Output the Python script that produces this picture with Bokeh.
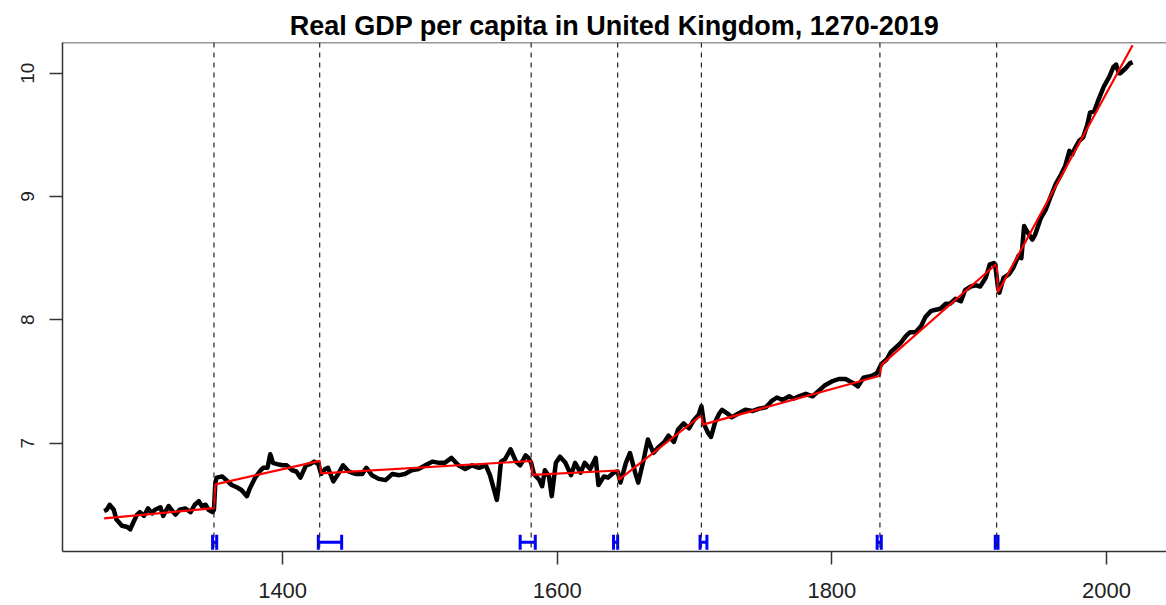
from bokeh.plotting import figure
from bokeh.models import Range1d, Span, Whisker, TeeHead, ColumnDataSource
from bokeh.embed import file_html
from bokeh.resources import INLINE

# ---- data (log real GDP per capita, UK) ----
years = [1270, 1272, 1274, 1277, 1279, 1283, 1287, 1289, 1291, 1294, 1296, 1299,
         1302, 1305, 1307, 1311, 1313, 1317, 1319, 1322, 1325, 1329, 1333, 1336,
         1339, 1341, 1344, 1346, 1349, 1350, 1351, 1352, 1356, 1359, 1363, 1367,
         1370, 1374, 1376, 1380, 1384, 1386, 1389, 1391, 1393, 1396, 1400, 1403,
         1407, 1410, 1413, 1417, 1420, 1423, 1426, 1428, 1431, 1433, 1437, 1441,
         1444, 1448, 1453, 1458, 1461, 1465, 1470, 1475, 1480, 1485, 1489, 1494,
         1499, 1504, 1509, 1514, 1518, 1523, 1528, 1533, 1538, 1543, 1548, 1551,
         1554, 1556, 1557, 1559, 1562, 1566, 1570, 1573, 1577, 1579, 1581, 1583,
         1587, 1589, 1591, 1594, 1596, 1599, 1602, 1606, 1610, 1613, 1617, 1620,
         1624, 1628, 1630, 1634, 1637, 1641, 1644, 1646, 1650, 1653, 1657, 1659,
         1663, 1666, 1670, 1674, 1678, 1681, 1685, 1688, 1692, 1696, 1699, 1703,
         1705, 1707, 1710, 1712, 1715, 1718, 1720, 1724, 1727, 1732, 1737, 1742,
         1747, 1752, 1756, 1760, 1764, 1769, 1772, 1776, 1781, 1786, 1790, 1795,
         1800, 1805, 1810, 1815, 1819, 1823, 1827, 1830, 1833, 1836, 1840, 1843,
         1846, 1850, 1854, 1857, 1861, 1865, 1868, 1872, 1875, 1879, 1883, 1886,
         1890, 1894, 1897, 1901, 1905, 1908, 1912, 1915, 1918, 1919, 1921, 1922,
         1925, 1929, 1932, 1936, 1938, 1940, 1942, 1946, 1948, 1952, 1956, 1959,
         1963, 1967, 1970, 1973, 1975, 1977, 1980, 1983, 1986, 1988, 1991, 1994,
         1998, 2002, 2005, 2007, 2009, 2010, 2014, 2017, 2019]
log_gdp = [6.45, 6.46, 6.50, 6.46, 6.38, 6.33, 6.32, 6.30, 6.35, 6.42, 6.44, 6.41,
           6.47, 6.43, 6.46, 6.48, 6.41, 6.49, 6.46, 6.42, 6.46, 6.47, 6.44, 6.50,
           6.53, 6.49, 6.50, 6.46, 6.44, 6.46, 6.68, 6.72, 6.73, 6.70, 6.66, 6.64,
           6.62, 6.57, 6.63, 6.72, 6.78, 6.80, 6.80, 6.91, 6.84, 6.83, 6.82, 6.82,
           6.78, 6.77, 6.72, 6.82, 6.83, 6.85, 6.83, 6.75, 6.79, 6.80, 6.69, 6.76,
           6.82, 6.77, 6.75, 6.75, 6.80, 6.74, 6.71, 6.70, 6.75, 6.74, 6.75, 6.78,
           6.79, 6.82, 6.85, 6.84, 6.84, 6.88, 6.82, 6.79, 6.82, 6.80, 6.82, 6.74,
           6.62, 6.54, 6.62, 6.85, 6.87, 6.95, 6.85, 6.82, 6.90, 6.88, 6.84, 6.75,
           6.70, 6.65, 6.78, 6.73, 6.57, 6.84, 6.89, 6.84, 6.74, 6.84, 6.76, 6.84,
           6.79, 6.88, 6.66, 6.73, 6.72, 6.76, 6.77, 6.68, 6.84, 6.92, 6.75, 6.68,
           6.87, 7.03, 6.92, 6.97, 7.01, 7.06, 7.01, 7.11, 7.16, 7.12, 7.18, 7.23,
           7.30, 7.15, 7.08, 7.05, 7.17, 7.24, 7.27, 7.24, 7.21, 7.24, 7.27, 7.26,
           7.28, 7.29, 7.34, 7.37, 7.35, 7.38, 7.36, 7.38, 7.40, 7.38, 7.42, 7.47,
           7.50, 7.52, 7.52, 7.49, 7.46, 7.53, 7.54, 7.55, 7.57, 7.64, 7.68, 7.74,
           7.77, 7.81, 7.87, 7.90, 7.90, 7.95, 8.02, 8.07, 8.08, 8.09, 8.13, 8.13,
           8.17, 8.15, 8.24, 8.27, 8.28, 8.27, 8.34, 8.45, 8.46, 8.44, 8.26, 8.22,
           8.34, 8.37, 8.42, 8.52, 8.50, 8.76, 8.72, 8.65, 8.69, 8.82, 8.90, 8.99,
           9.10, 9.18, 9.25, 9.37, 9.34, 9.39, 9.45, 9.48, 9.58, 9.68, 9.69, 9.78,
           9.89, 9.97, 10.05, 10.07, 10.00, 10.00, 10.04, 10.08, 10.09]

# breakpoints and their confidence intervals
breaks = [1350, 1427, 1581, 1644, 1705, 1835, 1920]
ci_lower = [1349, 1426, 1573, 1641, 1704, 1833, 1919]
ci_upper = [1352, 1443, 1584, 1644, 1709, 1836, 1921]

# fitted segmented trend (start/end year and value of each segment)
seg_start_year = [1270, 1351, 1428, 1582, 1645, 1706, 1836, 1921]
seg_end_year = [1350, 1427, 1581, 1644, 1705, 1835, 1920, 2019]
seg_start_val = [6.39, 6.665, 6.755, 6.743, 6.703, 7.15, 7.635, 8.225]
seg_end_val = [6.472, 6.856, 6.855, 6.778, 7.226, 7.546, 8.455, 10.226]

x_ticks = [1400, 1600, 1800, 2000]
y_ticks = [7, 8, 9, 10]
title = "Real GDP per capita in United Kingdom, 1270-2019"

# ---- figure ----
FONT = "Liberation Sans"
x_lo, x_hi = 1239.7, 2043.7
y_lo, y_hi = 6.121, 10.249

p = figure(width=1166, height=605, output_backend="svg", toolbar_location=None,
           x_range=Range1d(x_lo, x_hi), y_range=Range1d(y_lo, y_hi),
           min_border_left=62, min_border_right=0, min_border_top=42,
           min_border_bottom=54, title=title)
p.outline_line_color = None
p.grid.visible = False
p.background_fill_color = "white"
p.border_fill_color = "white"

p.title.text_font = FONT
p.title.text_font_size = "27px"
p.title.text_font_style = "bold"
p.title.text_color = "black"
p.title.align = "center"
p.title.standoff = 3

AX = "#333333"
for ax in (p.xaxis[0], p.yaxis[0]):
    ax.axis_line_color = AX
    ax.axis_line_width = 1.5
    ax.major_tick_line_color = AX
    ax.major_tick_line_width = 1.5
    ax.major_tick_out = 13
    ax.major_tick_in = 0
    ax.minor_tick_line_color = None
    ax.major_label_text_font = FONT
    ax.major_label_text_color = "#222222"
p.xaxis.ticker = x_ticks
p.yaxis.ticker = y_ticks
p.xaxis.major_label_text_font_size = "22px"
p.yaxis.major_label_text_font_size = "19px"
p.xaxis.major_label_standoff = 18
p.yaxis.major_label_standoff = 15
p.yaxis.major_label_orientation = "vertical"

# top border of box
p.add_layout(Span(location=y_hi, dimension="width", line_color=AX, line_width=1.5))

# series
p.line(years, log_gdp, line_color="black", line_width=4.5, line_join="round")

# fitted trend
fit_x, fit_y = [], []
for a, b, va, vb in zip(seg_start_year, seg_end_year, seg_start_val, seg_end_val):
    fit_x += [a, b]
    fit_y += [va, vb]
p.line(fit_x, fit_y, line_color="red", line_width=2.2)

# breakpoint lines
for b in breaks:
    p.add_layout(Span(location=b, dimension="height", line_color="#222222",
                      line_width=1.2, line_dash="5 5"))

# confidence intervals
ci_base = y_lo + 0.018 * (y_hi - y_lo)
ci_src = ColumnDataSource(dict(lower=ci_lower, upper=ci_upper,
                               base=[ci_base] * len(ci_lower)))
p.add_layout(Whisker(source=ci_src, base="base", lower="lower", upper="upper",
                     dimension="width", line_color="blue", line_width=3,
                     lower_head=TeeHead(size=15, line_color="blue", line_width=3),
                     upper_head=TeeHead(size=15, line_color="blue", line_width=3)))

open("out.html", "w").write(file_html(p, INLINE))
